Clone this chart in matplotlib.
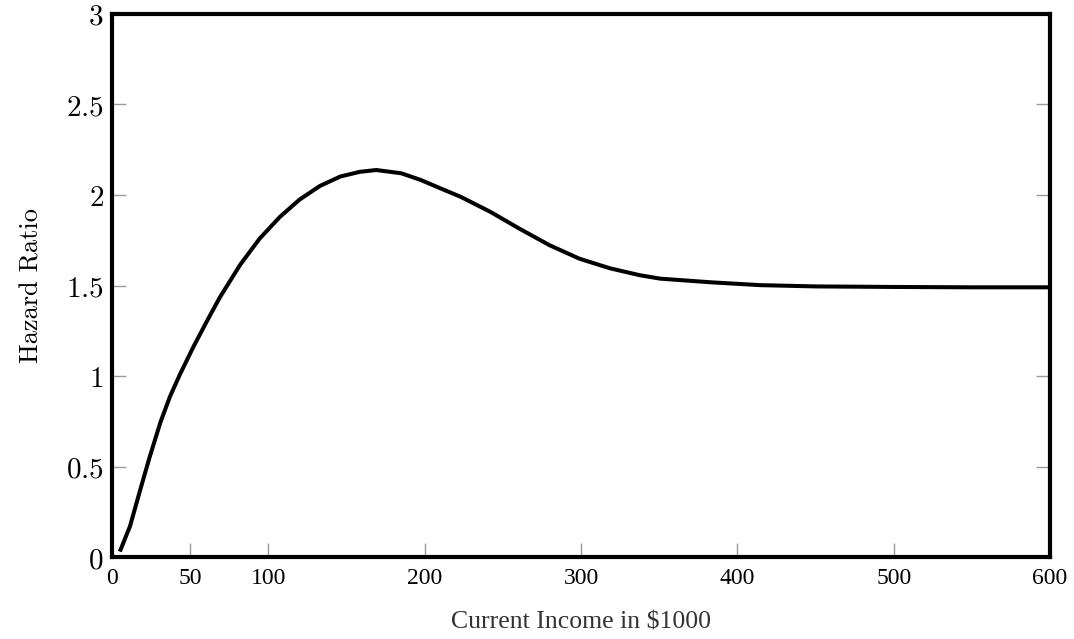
import matplotlib
matplotlib.use("Agg")
import matplotlib.pyplot as plt

income = [5, 11.5, 18, 24, 31, 37, 43.5, 52, 60.5, 69, 82, 94.5, 107.5, 120, 133,
          146, 158.5, 169, 185, 197.5, 210, 223, 242, 261, 280, 299, 318.5, 337.5,
          350.5, 382.5, 414.5, 450, 500, 550, 600]
hazard = [0.03, 0.17, 0.37, 0.55, 0.745, 0.885, 1.01, 1.16, 1.30, 1.435, 1.615,
          1.76, 1.88, 1.975, 2.05, 2.102, 2.128, 2.138, 2.12, 2.083, 2.037, 1.99,
          1.907, 1.812, 1.722, 1.648, 1.595, 1.557, 1.538, 1.518, 1.502, 1.495,
          1.492, 1.49, 1.49]

xticks = [0, 50, 100, 200, 300, 400, 500, 600]
yticks = [0, 0.5, 1, 1.5, 2, 2.5, 3]
ytick_labels = ["0", "0.5", "1", "1.5", "2", "2.5", "3"]

plt.rcParams['mathtext.fontset'] = 'cm'

fig = plt.figure(figsize=(10.74, 6.39), dpi=100)
ax = fig.add_axes([0.1043, 0.1283, 0.8734, 0.8498])

ax.plot(income, hazard, color='black', linewidth=2.9, solid_capstyle='butt',
        solid_joinstyle='round')

ax.set_xlim(0, 600)
ax.set_ylim(0, 3)
ax.set_xticks(xticks)
ax.set_xticklabels([str(t) for t in xticks], family='Liberation Serif', fontsize=17)
ax.set_yticks(yticks)
ax.set_yticklabels(["$" + s + "$" for s in ytick_labels], fontsize=21)

for sp in ax.spines.values():
    sp.set_linewidth(3)
    sp.set_color('black')

ax.tick_params(axis='both', direction='in', length=10, width=1, color='#999999')
ax.tick_params(axis='x', pad=8, top=False)
ax.tick_params(axis='y', pad=6, right=True)

ax.set_xlabel("Current Income in $1000", family='Liberation Serif', fontsize=18.5,
              color='#333333', labelpad=16)
ax.set_ylabel("Hazard Ratio", family='cmr10', fontsize=19, labelpad=16)

fig.savefig("out.png", dpi=100)
